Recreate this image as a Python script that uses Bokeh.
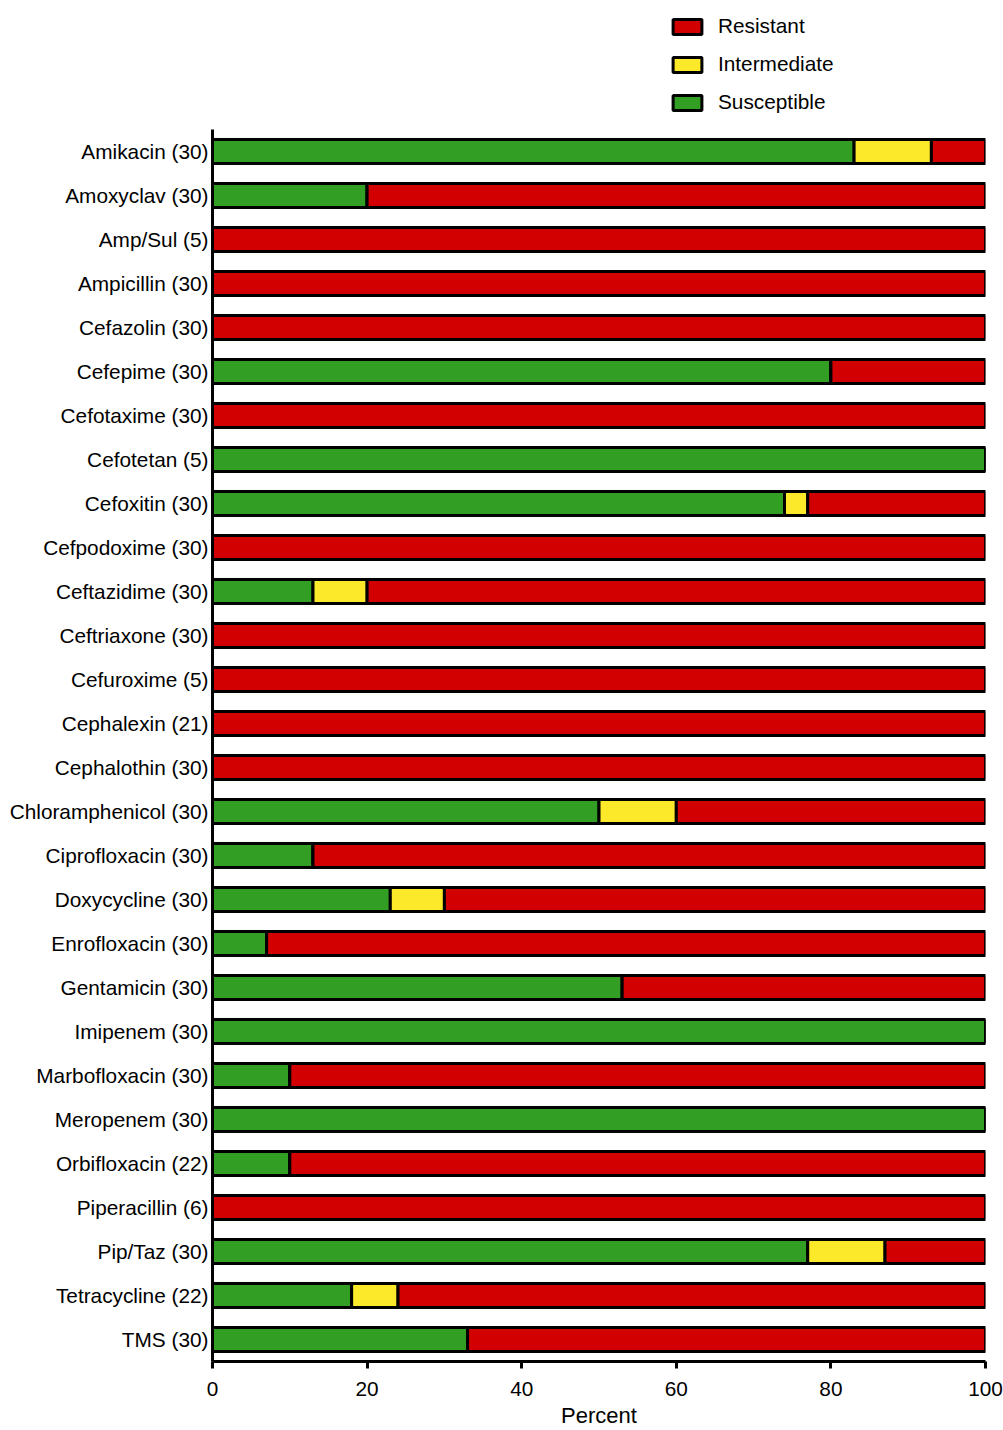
from bokeh.plotting import figure
from bokeh.models import ColumnDataSource, Range1d, FixedTicker, Legend, LegendItem
from bokeh.embed import file_html
from bokeh.resources import INLINE

# Antimicrobial susceptibility, percent of isolates (number tested in brackets)
drugs = [
    "Amikacin (30)", "Amoxyclav (30)", "Amp/Sul (5)", "Ampicillin (30)",
    "Cefazolin (30)", "Cefepime (30)", "Cefotaxime (30)", "Cefotetan (5)",
    "Cefoxitin (30)", "Cefpodoxime (30)", "Ceftazidime (30)", "Ceftriaxone (30)",
    "Cefuroxime (5)", "Cephalexin (21)", "Cephalothin (30)", "Chloramphenicol (30)",
    "Ciprofloxacin (30)", "Doxycycline (30)", "Enrofloxacin (30)", "Gentamicin (30)",
    "Imipenem (30)", "Marbofloxacin (30)", "Meropenem (30)", "Orbifloxacin (22)",
    "Piperacillin (6)", "Pip/Taz (30)", "Tetracycline (22)", "TMS (30)",
]
susceptible = [83, 20, 0, 0, 0, 80, 0, 100, 74, 0, 13, 0, 0, 0, 0, 50,
               13, 23, 7, 53, 100, 10, 100, 10, 0, 77, 18, 33]
intermediate = [10, 0, 0, 0, 0, 0, 0, 0, 3, 0, 7, 0, 0, 0, 0, 10,
                0, 7, 0, 0, 0, 0, 0, 0, 0, 10, 6, 0]
resistant = [7, 80, 100, 100, 100, 20, 100, 0, 23, 100, 80, 100, 100, 100, 100, 40,
             87, 70, 93, 47, 0, 90, 0, 90, 100, 13, 76.3, 67]

x_ticks = [0, 20, 40, 60, 80, 100]

colors = {"Susceptible": "#339E24", "Intermediate": "#FCE92A", "Resistant": "#D20000"}
FONT = "Liberation Sans"

W, H = 1003, 1430
BORDER_BOTTOM = 69
ROW_PX = 44                    # pixels per category row
n = len(drugs)
frame_px = H - BORDER_BOTTOM   # plot frame runs from the page top to the x axis
top_val = (n - 0.5) - frame_px / ROW_PX   # headroom above the first bar holds the legend

pos = list(range(n))
source = ColumnDataSource(dict(
    pos=pos,
    Susceptible=susceptible,
    Intermediate=intermediate,
    Resistant=resistant,
))

p = figure(
    width=W, height=H,
    x_range=Range1d(0, 100),
    y_range=Range1d(n - 0.5, top_val),
    output_backend="svg", toolbar_location=None,
    min_border_left=212, min_border_right=18,
    min_border_top=0, min_border_bottom=BORDER_BOTTOM,
)
p.background_fill_color = "white"
p.border_fill_color = "white"
p.outline_line_color = None
p.xgrid.visible = False
p.ygrid.visible = False

stack = ["Susceptible", "Intermediate", "Resistant"]
renderers = p.hbar_stack(
    stack, y="pos", height=0.55, source=source,
    fill_color=[colors[s] for s in stack],
    line_color="black", line_width=3,
)
rmap = dict(zip(stack, renderers))

# x axis
xa = p.xaxis[0]
xa.ticker = FixedTicker(ticks=x_ticks)
xa.minor_tick_line_color = None
xa.major_tick_in = 0
xa.major_tick_out = 7
xa.major_tick_line_width = 3
xa.axis_line_width = 3
xa.major_label_text_font = FONT
xa.major_label_text_font_size = "20.8px"
xa.major_label_text_color = "black"
xa.major_label_text_line_height = 1.0
xa.major_label_standoff = 13
xa.axis_label = "Percent"
xa.axis_label_text_font = FONT
xa.axis_label_text_font_size = "22px"
xa.axis_label_text_font_style = "normal"
xa.axis_label_text_color = "black"
xa.axis_label_text_line_height = 1.0
xa.axis_label_standoff = 4

# y axis with drug names; its line only spans the bar rows
ya = p.yaxis[0]
ya.ticker = FixedTicker(ticks=pos)
ya.major_label_overrides = {i: d for i, d in enumerate(drugs)}
ya.bounds = (-0.5, n - 0.5)
ya.minor_tick_line_color = None
ya.major_tick_in = 0
ya.major_tick_out = 0
ya.axis_line_width = 3
ya.major_label_text_font = FONT
ya.major_label_text_font_size = "20.8px"
ya.major_label_text_color = "black"
ya.major_label_standoff = 4

legend = Legend(
    items=[LegendItem(label=s, renderers=[rmap[s]]) for s in ["Resistant", "Intermediate", "Susceptible"]],
    location=(457, frame_px - 114),
    orientation="vertical",
    glyph_width=36, glyph_height=19,
    label_height=18, spacing=14,
    label_standoff=13,
    padding=0, margin=0,
    border_line_color=None,
    background_fill_alpha=0,
    label_text_font=FONT,
    label_text_font_size="20.8px",
    label_text_color="black",
)
p.add_layout(legend, "center")

open("out.html", "w").write(file_html(p, INLINE))
